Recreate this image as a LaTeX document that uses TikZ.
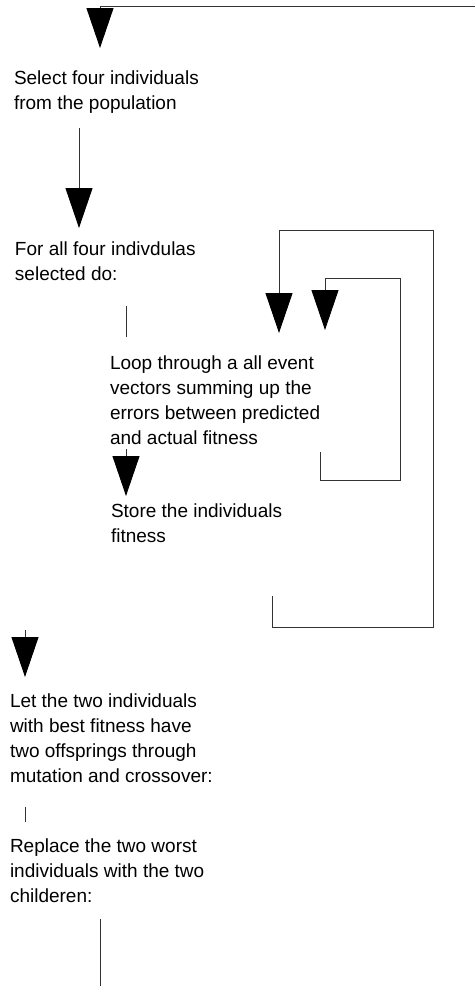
\documentclass[tikz,border=0pt]{standalone}
\usepackage{fontspec}
\setmainfont{Liberation Sans}
\usetikzlibrary{arrows.meta}

% left-aligned lines whose reference point is the first baseline
\newcommand\toplines[1]{\vtop{\halign{##\hfil\cr#1\crcr}}}

\begin{document}
\begin{tikzpicture}[x=1pt,y=-1pt,
  every node/.style={inner sep=0pt,outer sep=0pt},
  steptext/.style={anchor=base west,
    font=\fontsize{19pt}{25pt}\selectfont},
  flow/.style={draw=black!80,line width=0.9pt},
  flowarrow/.style={flow,-{Triangle[length=40pt,width=27pt,fill=black,color=black]}}]
\useasboundingbox (0,0) rectangle (475,986);

% process steps
\node[steptext] (select) at (14,84) {\toplines{Select four individuals\cr from the population}};
\node[steptext] (forall) at (15,255) {\toplines{For all four indivdulas\cr selected do:}};
\node[steptext] (loop) at (110,369) {\toplines{Loop through a all event\cr vectors summing up the\cr errors between predicted\cr and actual fitness}};
\node[steptext] (store) at (111,517) {\toplines{Store the individuals\cr fitness}};
\node[steptext] (breed) at (10,707) {\toplines{Let the two individuals\cr with best fitness have\cr two offsprings through\cr mutation and crossover:}};
\node[steptext] (replace) at (10,852) {\toplines{Replace the two worst\cr individuals with the two\cr childeren:}};

% connector end points
\coordinate (topR) at (475,6);
\coordinate (topC) at (100,6);
\coordinate (topTip) at (100,48);
\coordinate (selOut) at (79,128);
\coordinate (forIn) at (79,228);
\coordinate (forOut) at (126,306);
\coordinate (forStub) at (126,337);
\coordinate (loopOut) at (126,449);
\coordinate (storeIn) at (126,496);
\coordinate (outerA) at (272,596);
\coordinate (outerB) at (272,627);
\coordinate (outerC) at (433,627);
\coordinate (outerD) at (433,230);
\coordinate (outerE) at (279,230);
\coordinate (outerTip) at (279,333);
\coordinate (innerA) at (320,452);
\coordinate (innerB) at (320,480);
\coordinate (innerC) at (400,480);
\coordinate (innerD) at (400,278);
\coordinate (innerE) at (325,278);
\coordinate (innerTip) at (325,330);
\coordinate (breedIn0) at (25,630);
\coordinate (breedIn) at (25,677);
\coordinate (breedOut) at (25,807);
\coordinate (breedStub) at (25,822);
\coordinate (replOut) at (100,919);
\coordinate (replEnd) at (100,986);

% connectors
\draw[flowarrow] (topR) -- (topC) -- (topTip);
\draw[flowarrow] (selOut) -- (forIn);
\draw[flow] (forOut) -- (forStub);
\draw[flowarrow] (outerA) -- (outerB) -- (outerC) -- (outerD) -- (outerE) -- (outerTip);
\draw[flowarrow] (innerA) -- (innerB) -- (innerC) -- (innerD) -- (innerE) -- (innerTip);
\draw[flowarrow] (loopOut) -- (storeIn);
\draw[flowarrow] (breedIn0) -- (breedIn);
\draw[flow] (breedOut) -- (breedStub);
\draw[flow] (replOut) -- (replEnd);
\end{tikzpicture}
\end{document}
